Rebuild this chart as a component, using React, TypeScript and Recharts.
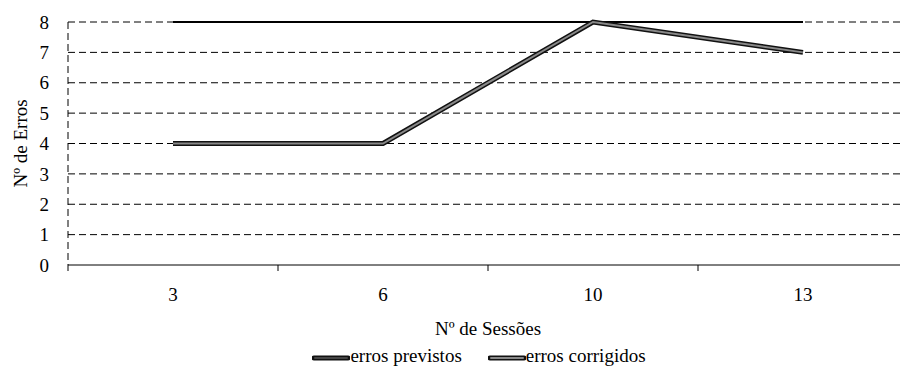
import { LineChart, Line, XAxis, YAxis, CartesianGrid, Legend, Label } from "recharts";

const sessions = ["3", "6", "10", "13"];
const errosPrevistos = [8, 8, 8, 8];
const errosCorrigidos = [4, 4, 8, 7];
const yTicks = [0, 1, 2, 3, 4, 5, 6, 7, 8];

const data = sessions.map((s, i) => ({
  sessao: s,
  previstos: errosPrevistos[i],
  corrigidos: errosCorrigidos[i],
}));

const font = "Liberation Serif, Times New Roman, serif";
const half = 105; // half of one category band

function SessionTick(props: any) {
  const { x, y, payload, index } = props;
  const last = index === sessions.length - 1;
  return (
    <g>
      <line x1={x - half} y1={y - 8} x2={x - half} y2={y - 2} stroke="#000" />
      {last && <line x1={x + half} y1={y - 8} x2={x + half} y2={y - 2} stroke="#000" />}
      <text x={x} y={y + 28} textAnchor="middle" fontSize={19} fontFamily={font} fill="#000">
        {payload.value}
      </text>
    </g>
  );
}

function LegendIcon({ inner }: { inner: string }) {
  return (
    <svg width={38} height={8} style={{ verticalAlign: "middle" }}>
      <line x1={2} y1={4} x2={36} y2={4} stroke="#111" strokeWidth={5} strokeLinecap="round" />
      <line x1={3} y1={4} x2={35} y2={4} stroke={inner} strokeWidth={2} strokeLinecap="round" />
    </svg>
  );
}

function SimpleLegend() {
  return (
    <div style={{ fontFamily: font, fontSize: 19, color: "#000", display: "flex", justifyContent: "center", marginLeft: 42 }}>
      <span style={{ marginRight: 26 }}>
        <LegendIcon inner="#444" />
        <span>erros previstos</span>
      </span>
      <span>
        <LegendIcon inner="#888" />
        <span>erros corrigidos</span>
      </span>
    </div>
  );
}

export default function App() {
  return (
    <div style={{ position: "absolute", left: 0, top: 0, width: 900, height: 375, overflow: "hidden", background: "#fff" }}>
      <LineChart width={920} height={375} data={data} margin={{ top: 22, right: 12, bottom: 0, left: 8 }}>
        <CartesianGrid vertical={false} horizontalValues={yTicks.slice(1)} stroke="#000" strokeDasharray="7 4" />
        <XAxis
          dataKey="sessao"
          height={80}
          padding={{ left: half, right: half }}
          axisLine={{ stroke: "#000" }}
          tickLine={false}
          tick={<SessionTick />}
          interval={0}
        >
          <Label value="Nº de Sessões" position="insideBottom" offset={10} style={{ fontFamily: font, fontSize: 19, fill: "#000" }} />
        </XAxis>
        <YAxis
          domain={[0, 8]}
          ticks={yTicks}
          width={60}
          interval={0}
          axisLine={{ stroke: "#000", strokeDasharray: "7 4" }}
          tickLine={false}
          tickMargin={13}
          tick={{ fontFamily: font, fontSize: 19, fill: "#000" }}
        >
          <Label value="Nº de Erros" angle={-90} position="insideLeft" offset={12} style={{ fontFamily: font, fontSize: 19, fill: "#000", textAnchor: "middle" }} />
        </YAxis>
        <Legend verticalAlign="bottom" height={30} content={<SimpleLegend />} />
        <Line dataKey="previstos" stroke="#000" strokeWidth={2} dot={false} isAnimationActive={false} />
        <Line dataKey="corrigidos" stroke="#111" strokeWidth={5} dot={false} legendType="none" isAnimationActive={false} />
        <Line dataKey="corrigidos" stroke="#888" strokeWidth={2} dot={false} legendType="none" isAnimationActive={false} />
      </LineChart>
    </div>
  );
}
